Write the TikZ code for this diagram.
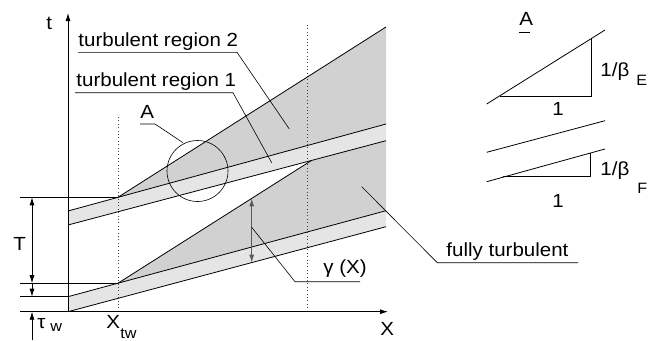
\documentclass[tikz,border=0pt]{standalone}
\usepackage{fontspec}
\setmainfont[FakeStretch=1.08]{Liberation Sans}
\usetikzlibrary{arrows.meta}
\definecolor{bandgray}{gray}{0.90}
\definecolor{zonegray}{gray}{0.82}
\begin{document}
\begin{tikzpicture}[x=1pt,y=-1pt,line width=0.8pt,
  lbl/.style={font=\fontsize{19}{21}\selectfont,inner sep=0pt,anchor=base west},
  sub/.style={font=\fontsize{15}{17}\selectfont,inner sep=0pt,anchor=base west},
  tip/.style={-{Latex[length=8pt,width=5pt]}},
  dtip/.style={{Latex[length=8pt,width=5pt]}-{Latex[length=8pt,width=5pt]}},
  leader/.style={line width=0.6pt},
  dots/.style={line width=0.7pt,black!75,dash pattern=on 0.8pt off 2.6pt}]
\useasboundingbox (0,0) rectangle (650,340);
% coordinates
\coordinate (O) at (68,311.7);
\coordinate (UA) at (68,211);
\coordinate (UB) at (386,124);
\coordinate (UC) at (68,225);
\coordinate (UD) at (386,140.7);
\coordinate (LA) at (68,296.7);
\coordinate (LB) at (386,210.7);
\coordinate (LC) at (68,311.7);
\coordinate (LD) at (386,226.7);
\coordinate (P1) at (118,197.3);
\coordinate (Q1) at (386,27);
\coordinate (P2) at (118,283.2);
\coordinate (Q2) at (311.6,160.4);
% fills
\fill[bandgray] (UA) -- (UB) -- (UD) -- (UC) -- cycle;
\fill[bandgray] (LA) -- (LB) -- (LD) -- (LC) -- cycle;
\fill[zonegray] (P1) -- (Q1) -- (UB) -- cycle;
\fill[zonegray] (P2) -- (Q2) -- (UD) -- (LB) -- cycle;
% dotted verticals
\draw[dots] (118,117) -- (118,311);
\draw[dots] (307,25) -- (307,311);
% band lines
\draw (UA) -- (UB);
\draw (UC) -- (UD);
\draw (LA) -- (LB);
\draw (LC) -- (LD);
\draw (P1) -- (Q1);
\draw (P2) -- (Q2);
% axes
\coordinate (Ttop) at (68,13);
\coordinate (Xend) at (388,311.7);
\draw[tip] (O) -- (Ttop);
\draw[tip] (O) -- (Xend);
\draw (20,311.7) -- (O);
% reference lines
\coordinate (R1) at (20,197.3);
\coordinate (R2) at (20,283.2);
\coordinate (R3) at (20,296.7);
\draw (R1) -- (P1);
\draw (R2) -- (P2);
\draw (R3) -- (LA);
% dimension arrows
\draw[dtip] (32,197.3) -- (32,283.2);
\draw[tip] (32,283.2) -- (32,296.7);
\draw[tip] (32,340) -- (32,311.7);
\draw[dtip,black!65,line width=1pt] (251.7,198.4) -- (251.7,262.6);
% circle A
\draw[leader] (197.5,171) circle (30.5);
% leaders
\draw[leader] (78,52.3) -- (237,52.3) -- (289.3,129);
\draw[leader] (75,92.7) -- (233,92.7) -- (271.7,162.7);
\draw[leader] (140,124) -- (155,124) -- (183,142.7);
\draw[leader] (251.7,227.3) -- (295,281.7) -- (360,281.7);
\draw[leader] (361.7,186.7) -- (437.3,262.7) -- (578,262.7);
% labels
\node[lbl] (lt) at (46,29) {t};
\node[lbl] (lr2) at (78,46.5) {turbulent region 2};
\node[lbl] (lr1) at (76,86) {turbulent region 1};
\node[lbl] (lA) at (140,118.3) {A};
\node[lbl] (lT) at (13,250) {T};
\node[lbl] (ltau) at (37,328.5) {τ};
\node[sub] (ltauw) at (50,331) {w};
\node[lbl] (lX) at (106,328) {X};
\node[sub] (lXtw) at (120,338) {tw};
\node[lbl] (lx) at (380,335) {X};
\node[lbl] (lg) at (323,273.3) {γ (X)};
\node[lbl] (lf) at (446,256) {fully turbulent};
% inset A
\node[lbl] (iA) at (519,25) {A};
\draw[line width=1.2pt] (519,32.3) -- (530,32.3);
\draw (486.7,104) -- (605,30);
\draw (500,96) -- (591.7,96) -- (591.7,38.3);
\node[lbl] (i1a) at (552,115) {1};
\node[lbl] (ibE) at (600,76) {1/β};
\node[sub] (iE) at (636,85) {E};
\draw (486.7,152.3) -- (605,120.7);
\draw (486.7,181.7) -- (605,149);
\draw (503,176.7) -- (590,176.7) -- (590,152.7);
\node[lbl] (i1b) at (552,207) {1};
\node[lbl] (ibF) at (600,175) {1/β};
\node[sub] (iF) at (637,193) {F};
\end{tikzpicture}
\end{document}
